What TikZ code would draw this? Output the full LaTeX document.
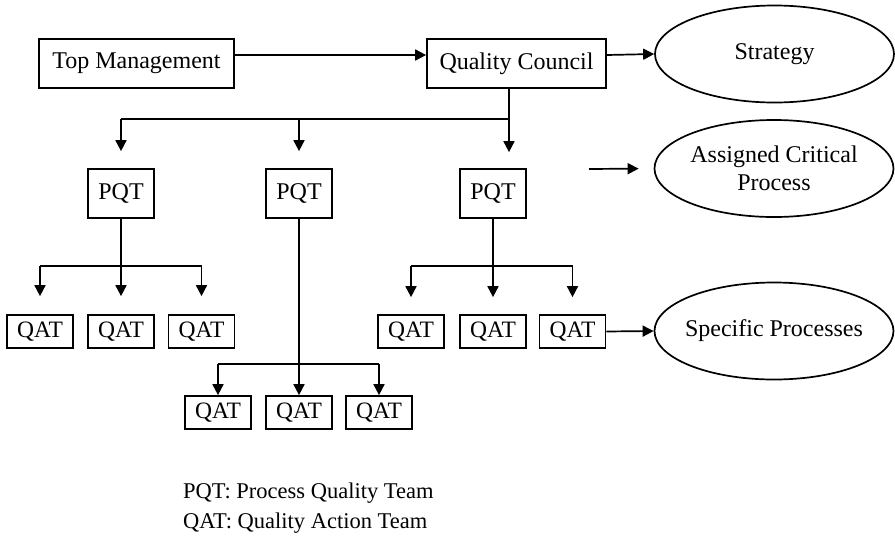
\documentclass[tikz,border=0pt]{standalone}
\usepackage{fontspec}
\setmainfont{Liberation Serif}
\usetikzlibrary{arrows.meta,shapes.geometric}
\begin{document}
\begin{tikzpicture}[x=1pt,y=-1pt,
  every node/.style={font=\fontsize{24pt}{28pt}\selectfont, inner sep=0pt},
  box/.style={draw, line width=1.7pt, minimum height=49pt},
  qbox/.style={draw, line width=1.7pt, minimum width=66pt, minimum height=33pt, font=\fontsize{23.5pt}{28pt}\selectfont},
  oval/.style={draw, ellipse, line width=1.7pt, minimum width=239pt, minimum height=97pt, align=center},
  conn/.style={line width=1.7pt},
  arr/.style={line width=1.7pt, -{Triangle[length=11pt,width=11pt]}}]
\useasboundingbox (0,0) rectangle (895,539);
% top row
\node[box, minimum width=195pt] (tm) at (136.5,63.5) {Top Management};
\node[box, minimum width=179pt] (qc) at (516.5,63.5) {Quality Council};
\node[oval] (st) at (774.5,54) {Strategy};
\node[oval] (acp) at (774,168.5) {\makebox[150pt]{Assigned Critical}\\Process};
\node[oval] (sp) at (774,331) {\makebox[150pt]{Specific Processes}};
% PQT
\node[box, minimum width=66pt] (p1) at (121,193.5) {PQT};
\node[box, minimum width=66pt] (p2) at (299,193.5) {PQT};
\node[box, minimum width=66pt] (p3) at (493,193.5) {PQT};
% QAT
\node[qbox] (a1) at (40,331.5) {QAT};
\node[qbox] (a2) at (121,331.5) {QAT};
\node[qbox] (a3) at (201.5,331.5) {QAT};
\node[qbox] (b1) at (218,412.5) {QAT};
\node[qbox] (b2) at (299,412.5) {QAT};
\node[qbox] (b3) at (379,412.5) {QAT};
\node[qbox] (c1) at (411,331.5) {QAT};
\node[qbox] (c2) at (493,331.5) {QAT};
\node[qbox] (c3) at (572.5,331.5) {QAT};
% legend
\node[anchor=west, align=left, font=\fontsize{22.5pt}{30pt}\selectfont] (leg) at (183,508) {PQT: Process Quality Team\\QAT: Quality Action Team};
% junctions
\coordinate (j1) at (509,119);
\coordinate (fa) at (589,169);
% top connectors
\draw[arr] ([yshift=8.5pt]tm.east) -- ([yshift=8.5pt]qc.west);
\draw[arr] ([yshift=8.5pt]qc.east) -- (st.west);
\draw[arr, shorten >=15pt] (fa) -- (acp.west);
\draw[arr] (c3.east) -- (sp.west);
% QC to PQTs
\draw[conn] (qc.south -| j1) -- (j1) -- (j1 -| p1);
\draw[arr, shorten >=16pt] (j1) -- (j1 |- p3.north);
\draw[arr, shorten >=17pt] (j1 -| p1) -- (p1.north);
\draw[arr, shorten >=17pt] (j1 -| p2) -- (p2.north);
% PQT1 group
\coordinate (h1) at (121,266);
\draw[arr, shorten >=18pt] (p1.south) -- (a2.north);
\draw[conn] (h1 -| a1) -- (h1 -| a3);
\draw[arr, shorten >=18pt] (h1 -| a1) -- (a1.north);
\draw[arr, shorten >=18pt] (h1 -| a3) -- (a3.north);
% PQT2 group
\coordinate (h2) at (299,364);
\draw[arr] (p2.south) -- (b2.north);
\draw[conn] (h2 -| b1) -- (h2 -| b3);
\draw[arr] (h2 -| b1) -- (b1.north);
\draw[arr] (h2 -| b3) -- (b3.north);
% PQT3 group
\coordinate (h3) at (493,266);
\draw[arr, shorten >=17pt] (p3.south) -- (c2.north);
\draw[conn] (h3 -| c1) -- (h3 -| c3);
\draw[arr, shorten >=17pt] (h3 -| c1) -- (c1.north);
\draw[arr, shorten >=17pt] (h3 -| c3) -- (c3.north);
\end{tikzpicture}
\end{document}
